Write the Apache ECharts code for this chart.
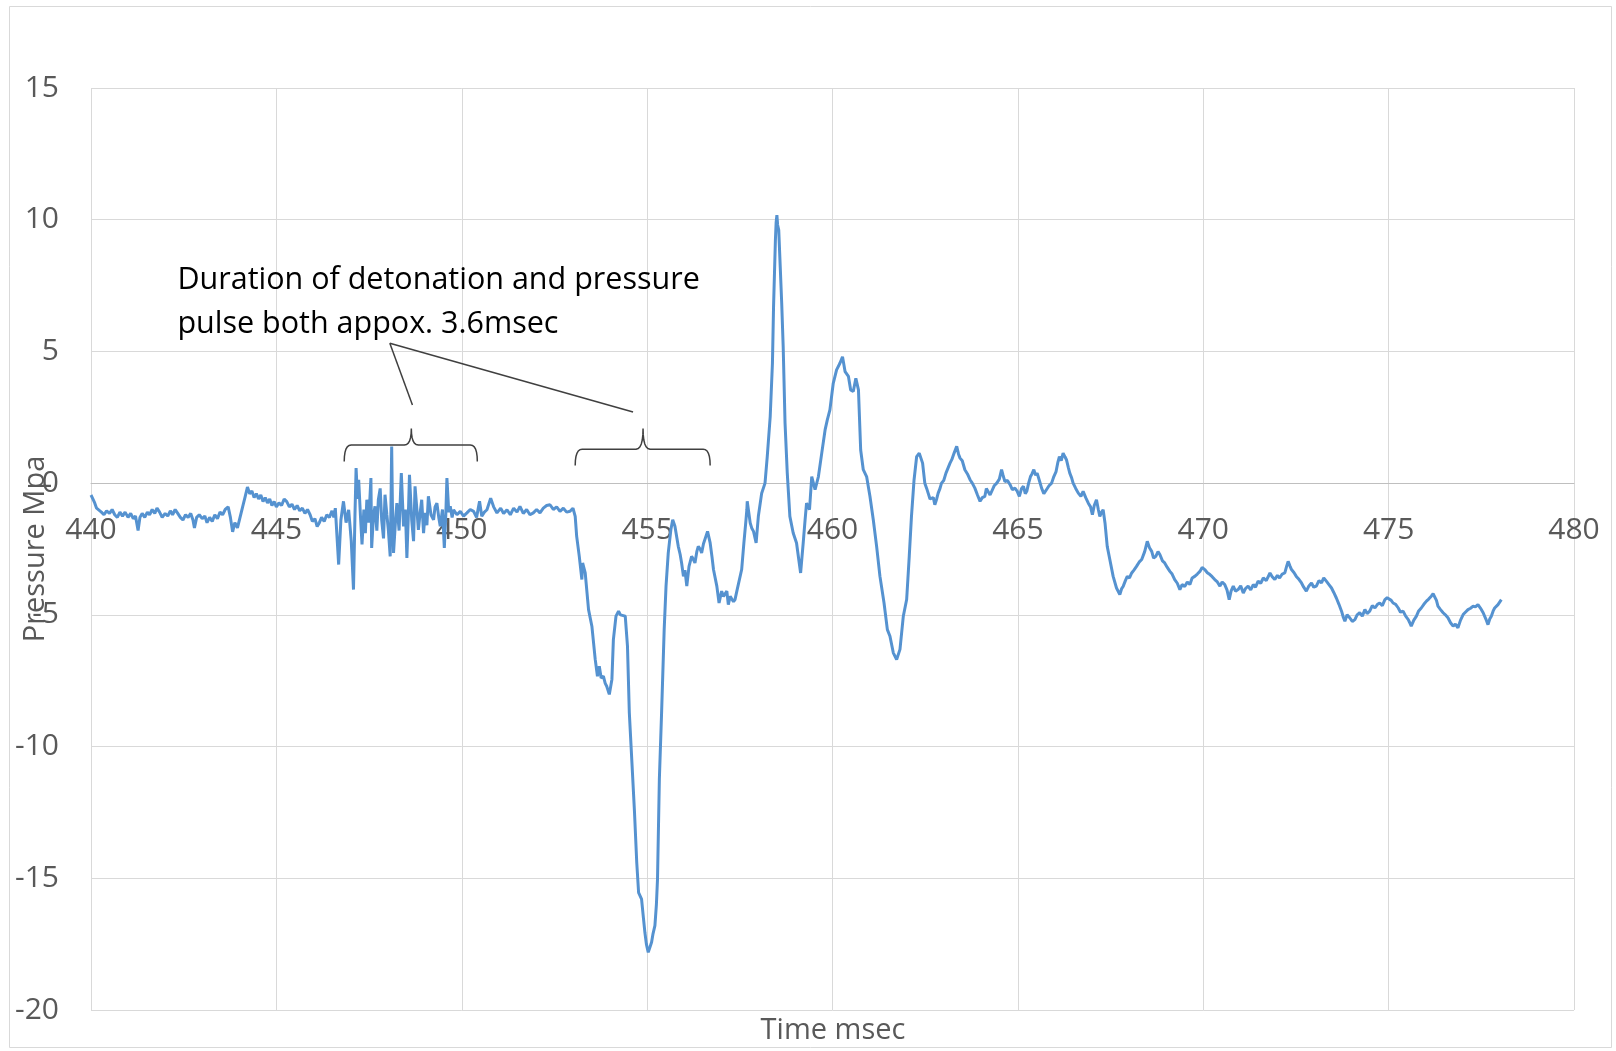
<!DOCTYPE html>
<html>
<head>
<meta charset="utf-8">
<title>Pressure trace</title>
<script src="https://cdn.jsdelivr.net/npm/echarts@6/dist/echarts.min.js"></script>
<style>
  html, body { margin: 0; padding: 0; background: #ffffff; }
  #chart_1 { width: 1616px; height: 1051px; }
</style>
</head>
<body>
<div id="chart_1"></div>
<script>
// readings: [time msec, pressure Mpa]
var baselineTrace = [
  [440.00,-0.45],[440.05,-0.6],[440.10,-0.75],[440.15,-0.95],[440.20,-0.9],[440.28,-1.1],[440.35,-1.2],[440.42,-1.05],
  [440.50,-1.15],[440.57,-1.0],[440.64,-1.2],[440.71,-1.3],[440.78,-1.1],[440.85,-1.25],[440.92,-1.1],[441.00,-1.3],
  [441.07,-1.15],[441.14,-1.35],[441.20,-1.25],[441.27,-1.8],[441.32,-1.3],[441.38,-1.15],[441.45,-1.3],[441.52,-1.1],
  [441.58,-1.2],[441.65,-1.0],[441.72,-1.15],[441.78,-0.95],[441.85,-1.1],[441.92,-1.3],[442.00,-1.15],[442.07,-1.25],
  [442.14,-1.05],[442.20,-1.2],[442.27,-1.0],[442.34,-1.15],[442.41,-1.3],[442.48,-1.4],[442.55,-1.2],[442.62,-1.3],
  [442.69,-1.15],[442.75,-1.4],[442.79,-1.7],[442.85,-1.3],[442.92,-1.2],[443.00,-1.35],[443.07,-1.25],[443.13,-1.5],
  [443.20,-1.3],[443.27,-1.45],[443.34,-1.2],[443.41,-1.35],[443.48,-1.1],[443.55,-1.2],[443.62,-1.0],[443.70,-0.9],
  [443.76,-1.3],[443.82,-1.85],[443.88,-1.5],[443.95,-1.7],[444.02,-1.3],[444.09,-0.9],[444.16,-0.5],[444.22,-0.15],
  [444.28,-0.4],[444.34,-0.3],[444.40,-0.55],[444.46,-0.4],[444.52,-0.6],[444.58,-0.45],[444.64,-0.7],[444.70,-0.55],
  [444.76,-0.75],[444.82,-0.6],[444.88,-0.85],[444.94,-0.7],[445.00,-0.9],[445.07,-0.75],[445.14,-0.85],[445.21,-0.6],
  [445.28,-0.7],[445.35,-0.9],[445.42,-0.8],[445.49,-1.0],[445.56,-0.85],[445.63,-1.05],[445.70,-0.95],[445.77,-1.15],
  [445.84,-1.0],[445.91,-1.2],[445.97,-1.45],[446.04,-1.35],[446.10,-1.65],[446.16,-1.5],[446.22,-1.3],[446.29,-1.45],
  [446.36,-1.2],[446.43,-1.3],[446.50,-1.05],[446.55,-1.3]
];

var detonationTrace = [
  [446.59,-0.95],[446.68,-3.09],[446.74,-1.4],[446.81,-0.69],[446.88,-1.5],[446.95,-1.01],[447.02,-2.2],[447.08,-4.04],
  [447.12,-1.2],[447.15,0.57],[447.19,-0.6],[447.22,0.13],[447.27,-1.3],[447.31,-2.33],[447.36,-1.0],[447.40,-1.9],
  [447.44,-0.63],[447.49,-1.5],[447.55,0.19],[447.57,-2.46],[447.62,-1.2],[447.66,-0.88],[447.71,-1.8],[447.75,-0.63],
  [447.80,-0.2],[447.84,-1.39],[447.89,-2.1],[447.93,-0.44],[447.98,-1.2],[448.02,-1.77],[448.07,-2.78],[448.09,-0.9],
  [448.11,1.39],[448.13,-0.8],[448.16,-2.65],[448.21,-1.5],[448.25,-0.76],[448.31,-1.8],[448.37,0.38],[448.43,-1.64],
  [448.48,-1.0],[448.52,-2.84],[448.56,-1.2],[448.59,0.32],[448.65,-1.39],[448.70,-2.2],[448.74,-0.12],[448.79,-1.0],
  [448.83,-1.77],[448.88,-1.1],[448.92,-0.63],[448.97,-1.9],[449.01,-1.13],[449.06,-1.6],[449.10,-0.50],[449.17,-1.2],
  [449.24,-1.39],[449.28,-0.9],[449.33,-0.76],[449.38,-1.3],[449.42,-1.64],[449.48,-1.0],[449.53,-2.46],[449.57,-1.2],
  [449.60,0.19],[449.65,-1.1],[449.69,-0.88],[449.74,-1.3],[449.78,-1.01],[449.87,-1.2],[449.96,-1.07],[450.05,-1.25],
  [450.14,-1.13],[450.23,-1.0],[450.32,-1.07],[450.40,-1.3],[450.48,-0.69],[450.54,-1.26],[450.61,-1.1],[450.68,-1.01],
  [450.78,-0.57],[450.86,-0.9],[450.95,-1.13],[451.05,-0.95],[451.13,-1.15],[451.22,-1.01],[451.31,-1.2],[451.40,-0.95],
  [451.49,-1.1],[451.57,-0.88],[451.66,-1.15],[451.75,-1.0],[451.84,-1.2],[451.93,-1.13],[452.02,-1.0],[452.11,-1.13],
  [452.20,-0.95],[452.29,-0.85],[452.38,-0.82],[452.47,-1.0],[452.56,-0.9],[452.65,-1.07],[452.74,-0.95],[452.83,-1.1],
  [452.92,-1.07],[453.00,-0.95],[453.06,-1.26]
];

var pulseTrace = [
  [453.10,-2.02],[453.17,-2.78],[453.24,-3.66],[453.26,-3.03],[453.33,-3.41],[453.42,-4.80],[453.51,-5.43],[453.60,-6.69],
  [453.66,-7.33],[453.71,-6.95],[453.76,-7.4],[453.82,-7.33],[453.87,-7.6],[453.91,-7.71],[453.98,-8.02],[454.05,-7.45],
  [454.09,-5.94],[454.16,-5.05],[454.23,-4.86],[454.28,-5.0],[454.32,-4.93],[454.41,-5.05],[454.47,-6.19],[454.52,-8.72],
  [454.59,-10.61],[454.66,-12.51],[454.72,-14.40],[454.77,-15.54],[454.81,-15.6],[454.85,-15.79],[454.90,-16.5],[454.94,-17.06],
  [454.98,-17.5],[455.03,-17.81],[455.08,-17.6],[455.12,-17.43],[455.16,-17.1],[455.21,-16.80],[455.25,-16.0],[455.28,-15.03],
  [455.33,-11.24],[455.39,-8.72],[455.46,-5.56],[455.51,-3.91],[455.57,-2.65],[455.64,-1.77],[455.69,-1.39],[455.75,-1.64],
  [455.84,-2.40],[455.89,-2.7],[455.93,-3.03],[455.98,-3.54],[456.02,-3.3],[456.07,-3.91],[456.13,-3.16],[456.20,-2.78],
  [456.25,-2.9],[456.29,-3.03],[456.34,-2.6],[456.38,-2.40],[456.43,-2.5],[456.47,-2.65],[456.52,-2.3],[456.56,-2.27],
  [456.63,-1.83],[456.70,-2.27],[456.75,-2.8],[456.79,-3.28],[456.88,-3.91],[456.94,-4.55],[457.01,-4.10],[457.06,-4.3],
  [457.10,-4.29],[457.15,-4.1],[457.19,-4.61],[457.24,-4.3],[457.28,-4.23],[457.33,-4.5],[457.37,-4.42],[457.42,-4.1],
  [457.46,-4.04],[457.55,-3.28],[457.61,-2.27],[457.66,-1.5],[457.69,-1.01],[457.70,-0.69],[457.73,-0.63],[457.78,-1.51],
  [457.82,-1.7],[457.87,-1.83],[457.94,-2.27],[458.00,-1.26],[458.09,-0.38],[458.18,0.0],[458.24,1.01],[458.32,2.53],
  [458.38,4.55],[458.41,6.70],[458.46,9.23],[458.48,9.9],[458.50,10.17],[458.52,9.8],[458.55,9.61],[458.59,8.22],
  [458.63,6.83],[458.67,5.18],[458.72,2.28],[458.78,0.38],[458.85,-1.26],[458.94,-1.89],[459.03,-2.27],[459.09,-2.90],
  [459.14,-3.41],[459.21,-2.27],[459.26,-1.4],[459.30,-0.76],[459.38,-1.01],[459.44,0.25],[459.53,-0.25],[459.62,0.25],
  [459.71,1.14],[459.80,2.02],[459.86,2.40],[459.93,2.78],[460.02,3.79],[460.11,4.30],[460.20,4.55],[460.27,4.80],
  [460.34,4.23],[460.43,4.05],[460.49,3.54],[460.56,3.48],[460.63,3.98],[460.70,3.54],[460.76,1.26],[460.83,0.51],
  [460.92,0.25],[461.01,-0.50],[461.10,-1.39],[461.19,-2.40],[461.28,-3.54],[461.39,-4.55],[461.48,-5.56],[461.55,-5.81],
  [461.64,-6.44],[461.73,-6.70],[461.82,-6.31],[461.91,-5.05],[462.00,-4.42],[462.07,-2.78],[462.13,-1.26],[462.20,0.13],
  [462.27,1.01],[462.34,1.14]
];

var reboundTrace = [
  [462.43,0.76],[462.49,0.00],[462.54,-0.2],[462.58,-0.38],[462.63,-0.6],[462.67,-0.63],[462.72,-0.55],[462.76,-0.82],
  [462.81,-0.6],[462.85,-0.38],[462.90,-0.2],[462.94,0.00],[463.00,0.1],[463.06,0.38],[463.11,0.45],[463.17,0.76],
  [463.22,0.9],[463.28,1.14],[463.35,1.40],[463.40,1.1],[463.44,0.95],[463.50,0.85],[463.57,0.51],[463.64,0.35],
  [463.71,0.13],[463.77,0.0],[463.84,-0.19],[463.91,-0.45],[463.98,-0.69],[464.04,-0.55],[464.11,-0.50],[464.15,-0.2],
  [464.20,-0.19],[464.25,-0.45],[464.29,-0.38],[464.36,-0.1],[464.43,0.00],[464.50,0.15],[464.56,0.51],[464.60,0.3],
  [464.65,0.06],[464.72,0.1],[464.79,-0.06],[464.85,-0.25],[464.92,-0.19],[464.98,-0.3],[465.04,-0.50],[465.10,-0.2],
  [465.15,-0.12],[465.20,-0.4],[465.24,-0.31],[465.29,0.0],[465.34,0.25],[465.38,0.35],[465.43,0.51],[465.48,0.3],
  [465.52,0.38],[465.58,0.1],[465.64,-0.19],[465.70,-0.4],[465.77,-0.25],[465.84,-0.1],[465.91,0.00],[465.97,0.25],
  [466.03,0.44],[466.08,0.8],[466.12,1.01],[466.17,0.85],[466.22,1.14],[466.27,1.0],[466.31,0.89],[466.36,0.6],
  [466.40,0.38],[466.45,0.2],[466.49,0.00],[466.56,-0.2],[466.63,-0.38],[466.70,-0.5],[466.76,-0.31],[466.83,-0.55],
  [466.90,-0.76],[466.96,-0.9],[467.01,-1.20],[467.06,-0.85],[467.12,-0.63],[467.17,-1.0],[467.21,-1.26],[467.26,-1.1],
  [467.30,-1.01],[467.35,-1.51],[467.41,-2.40],[467.48,-2.90],[467.57,-3.54],[467.66,-3.98],[467.75,-4.23],[467.80,-4.0],
  [467.84,-3.92],[467.90,-3.7],[467.95,-3.54],[468.01,-3.6],[468.07,-3.41],[468.13,-3.3],[468.20,-3.16],[468.27,-3.0],
  [468.34,-2.90],[468.42,-2.6],[468.49,-2.21],[468.55,-2.45],[468.61,-2.59],[468.66,-2.85],[468.72,-2.78],[468.78,-2.6],
  [468.83,-2.71],[468.90,-2.95],[468.96,-3.03],[469.03,-3.2],[469.10,-3.35],[469.16,-3.45],[469.23,-3.66],[469.30,-3.8],
  [469.37,-4.04],[469.43,-3.85],[469.50,-3.92],[469.57,-3.75],[469.64,-3.85],[469.70,-3.6],[469.77,-3.54],[469.84,-3.45],
  [469.91,-3.35]
];

var decayTrace = [
  [469.97,-3.2],[470.04,-3.28],[470.11,-3.4],[470.18,-3.47],[470.24,-3.55],[470.31,-3.66],[470.38,-3.75],[470.45,-3.91],
  [470.51,-3.75],[470.58,-3.85],[470.64,-4.05],[470.70,-4.42],[470.75,-4.1],[470.81,-3.91],[470.87,-4.1],[470.94,-4.04],
  [471.01,-3.9],[471.08,-4.17],[471.14,-4.0],[471.21,-3.91],[471.28,-4.05],[471.35,-3.85],[471.41,-3.95],[471.48,-3.72],
  [471.55,-3.8],[471.62,-3.60],[471.70,-3.7],[471.80,-3.41],[471.86,-3.55],[471.93,-3.66],[472.00,-3.5],[472.06,-3.60],
  [472.13,-3.45],[472.20,-3.41],[472.25,-3.15],[472.29,-2.97],[472.34,-3.15],[472.38,-3.28],[472.45,-3.4],[472.51,-3.54],
  [472.58,-3.65],[472.65,-3.79],[472.71,-3.95],[472.78,-4.10],[472.85,-3.9],[472.92,-3.79],[472.98,-3.95],[473.05,-3.91],
  [473.12,-3.7],[473.19,-3.79],[473.25,-3.6],[473.32,-3.72],[473.39,-3.85],[473.46,-3.98],[473.52,-4.15],[473.59,-4.36],
  [473.66,-4.6],[473.73,-4.86],[473.78,-5.1],[473.82,-5.24],[473.88,-5.0],[473.95,-5.11],[474.02,-5.25],[474.09,-5.18],
  [474.15,-5.0],[474.22,-4.92],[474.29,-5.05],[474.36,-4.80],[474.42,-4.95],[474.49,-4.86],[474.56,-4.65],[474.63,-4.74],
  [474.70,-4.6],[474.76,-4.55],[474.83,-4.65],[474.90,-4.42],[474.96,-4.35],[475.01,-4.29],[475.07,-4.45],[475.12,-4.55],
  [475.19,-4.6],[475.26,-4.74],[475.32,-4.9],[475.39,-4.86],[475.46,-5.05],[475.53,-5.18],[475.57,-5.3],[475.61,-5.43],
  [475.68,-5.2],[475.75,-5.05],[475.81,-4.85],[475.88,-4.74],[475.95,-4.6],[476.02,-4.48],[476.08,-4.4],[476.15,-4.29],
  [476.20,-4.2],[476.24,-4.17],[476.29,-4.45],[476.33,-4.67],[476.40,-4.8],[476.47,-4.92],[476.53,-5.0],[476.60,-5.11],
  [476.67,-5.3],[476.74,-5.43],[476.80,-5.35],[476.87,-5.49],[476.94,-5.2],[477.01,-4.99],[477.07,-4.9],[477.14,-4.80],
  [477.21,-4.75],[477.28,-4.67],[477.34,-4.7],[477.41,-4.61],[477.48,-4.75],[477.55,-4.92],[477.62,-5.15],[477.68,-5.37],
  [477.73,-5.15],[477.77,-5.05],[477.82,-4.85],[477.86,-4.74],[477.91,-4.8],[477.95,-4.61],[478.00,-4.55],[478.04,-4.42]
];

var timeTicks = [440, 445, 450, 455, 460, 465, 470, 475, 480];
var pressureTicks = [-20, -15, -10, -5, 0, 5, 10, 15];
var noteLines = ['Duration of detonation and pressure', 'pulse both appox. 3.6msec'];

var dom = document.getElementById('chart_1');
var myChart = echarts.init(dom, null, { renderer: 'canvas' });
var option = null;

var trace = baselineTrace.concat(detonationTrace, pulseTrace, reboundTrace, decayTrace);
var labelFont = '"Open Sans", "Noto Sans", sans-serif';

option = {
  backgroundColor: '#ffffff',
  animation: false,
  grid: {
    left: 91,
    right: 42,
    top: 88,
    bottom: 41,
    containLabel: false,
    outerBoundsMode: 'none'
  },
  xAxis: {
    type: 'value',
    min: timeTicks[0],
    max: timeTicks[timeTicks.length - 1],
    interval: timeTicks[1] - timeTicks[0],
    axisLine: { show: true, onZero: false, lineStyle: { color: '#bfbfbf', width: 1 } },
    axisTick: { show: false },
    axisLabel: { color: '#595959', fontSize: 30, fontFamily: labelFont, margin: 32 },
    splitLine: { show: true, lineStyle: { color: '#d9d9d9', width: 1 } }
  },
  yAxis: {
    type: 'value',
    min: pressureTicks[0],
    max: pressureTicks[pressureTicks.length - 1],
    interval: pressureTicks[1] - pressureTicks[0],
    axisLine: { show: false },
    axisTick: { show: false },
    axisLabel: { color: '#595959', fontSize: 30, fontFamily: labelFont, margin: 32 },
    splitLine: { show: true, lineStyle: { color: '#d9d9d9', width: 1 } }
  },
  series: [
    {
      name: 'Pressure',
      type: 'line',
      data: trace,
      symbol: 'none',
      smooth: false,
      lineStyle: { color: '#5592d0', width: 3 },
      itemStyle: { color: '#5592d0' }
    }
  ]
};

if (option && typeof option === 'object') {
  myChart.setOption(option, true);
}

// annotation: text, leader lines and braces placed in data coordinates
function px(t, v) {
  return myChart.convertToPixel({ gridIndex: 0 }, [t, v]);
}

// the time axis crosses the pressure axis at 0, as in the original sheet
var zeroOffset = px(timeTicks[0], 0)[1] - px(timeTicks[0], pressureTicks[0])[1];
myChart.setOption({ xAxis: { offset: zeroOffset } });

// rounded corner sampled as a quadratic curve
function curvePts(p0, c, p1) {
  var pts = [];
  for (var i = 1; i <= 6; i++) {
    var k = i / 6, q = 1 - k;
    pts.push([q * q * p0[0] + 2 * q * k * c[0] + k * k * p1[0], q * q * p0[1] + 2 * q * k * c[1] + k * k * p1[1]]);
  }
  return pts;
}

function bracePoints(x1, xm, x2, yBar, yEnd, yTip) {
  var a = px(x1, yEnd), b = px(x1, yBar), m = px(xm, yBar), tip = px(xm, yTip), c = px(x2, yBar), d = px(x2, yEnd);
  var r = 7;
  var pts = [a];
  pts = pts.concat(curvePts(a, b, [b[0] + r, b[1]]));
  pts.push([m[0] - r, m[1]]);
  pts = pts.concat(curvePts([m[0] - r, m[1]], m, tip));
  pts = pts.concat(curvePts(tip, m, [m[0] + r, m[1]]));
  pts.push([c[0] - r, c[1]]);
  pts = pts.concat(curvePts([c[0] - r, c[1]], c, d));
  return pts;
}

var textAt = px(442.33, 7.71);
var textAt2 = px(442.33, 6.04);
var leadFrom = px(448.06, 5.31);
var leadA = px(448.67, 2.97);
var leadB = px(454.62, 2.70);
var inkColor = '#404040';

myChart.setOption({
  graphic: [
    {
      type: 'rect',
      silent: true,
      shape: { x: 9.5, y: 6.5, width: 1602, height: 1041 },
      style: { fill: 'none', stroke: '#d9d9d9', lineWidth: 1 }
    },
    {
      type: 'text', x: textAt[0], y: textAt[1],
      style: { text: noteLines[0], fill: '#000000', fontSize: 30.5, fontFamily: labelFont, align: 'left', verticalAlign: 'middle' }
    },
    {
      type: 'text', x: textAt2[0], y: textAt2[1],
      style: { text: noteLines[1], fill: '#000000', fontSize: 30.5, fontFamily: labelFont, align: 'left', verticalAlign: 'middle' }
    },
    {
      type: 'line',
      shape: { x1: leadFrom[0], y1: leadFrom[1], x2: leadA[0], y2: leadA[1] },
      style: { stroke: inkColor, lineWidth: 1.5 }
    },
    {
      type: 'line',
      shape: { x1: leadFrom[0], y1: leadFrom[1], x2: leadB[0], y2: leadB[1] },
      style: { stroke: inkColor, lineWidth: 1.5 }
    },
    {
      type: 'polyline',
      shape: { points: bracePoints(446.83, 448.64, 450.42, 1.45, 0.82, 2.07) },
      style: { fill: 'none', stroke: inkColor, lineWidth: 1.5 }
    },
    {
      type: 'polyline',
      shape: { points: bracePoints(453.06, 454.89, 456.70, 1.29, 0.67, 2.07) },
      style: { fill: 'none', stroke: inkColor, lineWidth: 1.5 }
    },
    {
      type: 'text', x: 36, y: 549, rotation: Math.PI / 2,
      style: { text: 'Pressure Mpa', fill: '#595959', fontSize: 29, fontFamily: labelFont, align: 'center', verticalAlign: 'middle' }
    },
    {
      type: 'text', x: 833, y: 1031,
      style: { text: 'Time msec', fill: '#595959', fontSize: 29, fontFamily: labelFont, align: 'center', verticalAlign: 'middle' }
    }
  ]
});
</script>
</body>
</html>
